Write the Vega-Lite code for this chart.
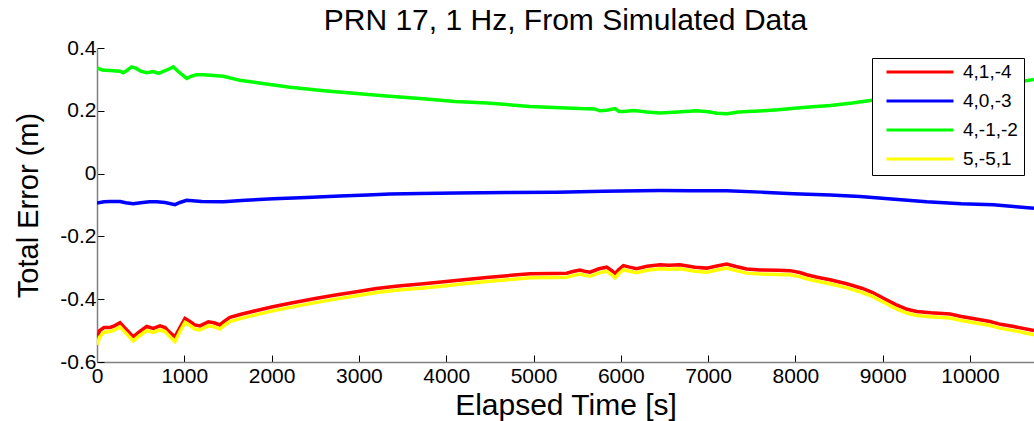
{
  "$schema": "https://vega.github.io/schema/vega-lite/v6.json",
  "width": 937,
  "height": 314,
  "autosize": {"type": "none"},
  "padding": {"left": 97, "top": 48, "right": 0, "bottom": 59},
  "background": "white",
  "title": {"text": "PRN 17, 1 Hz, From Simulated Data", "font": "Liberation Sans", "fontSize": 30, "fontWeight": "normal", "color": "black", "anchor": "middle", "offset": 1},
  "config": {
    "view": {"stroke": null},
    "font": "Liberation Sans"
  },
  "data": {"values": [
    {"s":"4,1,-4","t":0,"v":-0.525},{"s":"4,1,-4","t":30,"v":-0.5},{"s":"4,1,-4","t":80,"v":-0.49},{"s":"4,1,-4","t":150,"v":-0.49},{"s":"4,1,-4","t":200,"v":-0.485},{"s":"4,1,-4","t":263,"v":-0.475},{"s":"4,1,-4","t":330,"v":-0.495},{"s":"4,1,-4","t":416,"v":-0.52},{"s":"4,1,-4","t":480,"v":-0.505},{"s":"4,1,-4","t":569,"v":-0.487},{"s":"4,1,-4","t":645,"v":-0.493},{"s":"4,1,-4","t":722,"v":-0.485},{"s":"4,1,-4","t":780,"v":-0.49},{"s":"4,1,-4","t":830,"v":-0.505},{"s":"4,1,-4","t":893,"v":-0.52},{"s":"4,1,-4","t":950,"v":-0.49},{"s":"4,1,-4","t":1008,"v":-0.461},{"s":"4,1,-4","t":1060,"v":-0.47},{"s":"4,1,-4","t":1120,"v":-0.482},{"s":"4,1,-4","t":1180,"v":-0.485},{"s":"4,1,-4","t":1275,"v":-0.472},{"s":"4,1,-4","t":1340,"v":-0.475},{"s":"4,1,-4","t":1409,"v":-0.482},{"s":"4,1,-4","t":1460,"v":-0.47},{"s":"4,1,-4","t":1523,"v":-0.458},{"s":"4,1,-4","t":1650,"v":-0.448},{"s":"4,1,-4","t":1829,"v":-0.436},{"s":"4,1,-4","t":2000,"v":-0.425},{"s":"4,1,-4","t":2211,"v":-0.413},{"s":"4,1,-4","t":2500,"v":-0.398},{"s":"4,1,-4","t":2750,"v":-0.386},{"s":"4,1,-4","t":2974,"v":-0.376},{"s":"4,1,-4","t":3200,"v":-0.366},{"s":"4,1,-4","t":3450,"v":-0.358},{"s":"4,1,-4","t":3738,"v":-0.351},{"s":"4,1,-4","t":4000,"v":-0.344},{"s":"4,1,-4","t":4200,"v":-0.338},{"s":"4,1,-4","t":4464,"v":-0.331},{"s":"4,1,-4","t":4700,"v":-0.325},{"s":"4,1,-4","t":4960,"v":-0.319},{"s":"4,1,-4","t":5200,"v":-0.318},{"s":"4,1,-4","t":5380,"v":-0.317},{"s":"4,1,-4","t":5450,"v":-0.312},{"s":"4,1,-4","t":5532,"v":-0.307},{"s":"4,1,-4","t":5600,"v":-0.312},{"s":"4,1,-4","t":5647,"v":-0.314},{"s":"4,1,-4","t":5750,"v":-0.303},{"s":"4,1,-4","t":5838,"v":-0.298},{"s":"4,1,-4","t":5900,"v":-0.31},{"s":"4,1,-4","t":5934,"v":-0.319},{"s":"4,1,-4","t":5980,"v":-0.305},{"s":"4,1,-4","t":6030,"v":-0.293},{"s":"4,1,-4","t":6100,"v":-0.298},{"s":"4,1,-4","t":6182,"v":-0.303},{"s":"4,1,-4","t":6300,"v":-0.295},{"s":"4,1,-4","t":6449,"v":-0.29},{"s":"4,1,-4","t":6550,"v":-0.292},{"s":"4,1,-4","t":6678,"v":-0.29},{"s":"4,1,-4","t":6850,"v":-0.298},{"s":"4,1,-4","t":6984,"v":-0.301},{"s":"4,1,-4","t":7100,"v":-0.294},{"s":"4,1,-4","t":7213,"v":-0.288},{"s":"4,1,-4","t":7320,"v":-0.296},{"s":"4,1,-4","t":7442,"v":-0.304},{"s":"4,1,-4","t":7600,"v":-0.307},{"s":"4,1,-4","t":7800,"v":-0.308},{"s":"4,1,-4","t":7938,"v":-0.309},{"s":"4,1,-4","t":8050,"v":-0.315},{"s":"4,1,-4","t":8129,"v":-0.322},{"s":"4,1,-4","t":8250,"v":-0.33},{"s":"4,1,-4","t":8396,"v":-0.338},{"s":"4,1,-4","t":8588,"v":-0.351},{"s":"4,1,-4","t":8760,"v":-0.365},{"s":"4,1,-4","t":8880,"v":-0.378},{"s":"4,1,-4","t":9004,"v":-0.396},{"s":"4,1,-4","t":9150,"v":-0.417},{"s":"4,1,-4","t":9280,"v":-0.432},{"s":"4,1,-4","t":9389,"v":-0.439},{"s":"4,1,-4","t":9550,"v":-0.443},{"s":"4,1,-4","t":9771,"v":-0.447},{"s":"4,1,-4","t":9900,"v":-0.455},{"s":"4,1,-4","t":10050,"v":-0.462},{"s":"4,1,-4","t":10229,"v":-0.471},{"s":"4,1,-4","t":10350,"v":-0.48},{"s":"4,1,-4","t":10500,"v":-0.487},{"s":"4,1,-4","t":10733,"v":-0.5},

    {"s":"4,0,-3","t":0,"v":-0.094},{"s":"4,0,-3","t":80,"v":-0.09},{"s":"4,0,-3","t":150,"v":-0.089},{"s":"4,0,-3","t":263,"v":-0.089},{"s":"4,0,-3","t":330,"v":-0.093},{"s":"4,0,-3","t":416,"v":-0.096},{"s":"4,0,-3","t":500,"v":-0.093},{"s":"4,0,-3","t":600,"v":-0.09},{"s":"4,0,-3","t":684,"v":-0.09},{"s":"4,0,-3","t":780,"v":-0.092},{"s":"4,0,-3","t":893,"v":-0.099},{"s":"4,0,-3","t":950,"v":-0.092},{"s":"4,0,-3","t":1027,"v":-0.085},{"s":"4,0,-3","t":1200,"v":-0.089},{"s":"4,0,-3","t":1447,"v":-0.09},{"s":"4,0,-3","t":1700,"v":-0.085},{"s":"4,0,-3","t":2020,"v":-0.08},{"s":"4,0,-3","t":2400,"v":-0.076},{"s":"4,0,-3","t":2783,"v":-0.071},{"s":"4,0,-3","t":3100,"v":-0.068},{"s":"4,0,-3","t":3356,"v":-0.065},{"s":"4,0,-3","t":3700,"v":-0.063},{"s":"4,0,-3","t":4120,"v":-0.062},{"s":"4,0,-3","t":4700,"v":-0.06},{"s":"4,0,-3","t":5266,"v":-0.059},{"s":"4,0,-3","t":5800,"v":-0.056},{"s":"4,0,-3","t":6449,"v":-0.054},{"s":"4,0,-3","t":6800,"v":-0.055},{"s":"4,0,-3","t":7213,"v":-0.055},{"s":"4,0,-3","t":7600,"v":-0.059},{"s":"4,0,-3","t":7977,"v":-0.064},{"s":"4,0,-3","t":8400,"v":-0.068},{"s":"4,0,-3","t":8740,"v":-0.073},{"s":"4,0,-3","t":9100,"v":-0.081},{"s":"4,0,-3","t":9503,"v":-0.09},{"s":"4,0,-3","t":9900,"v":-0.096},{"s":"4,0,-3","t":10267,"v":-0.099},{"s":"4,0,-3","t":10500,"v":-0.105},{"s":"4,0,-3","t":10733,"v":-0.11},

    {"s":"4,-1,-2","t":0,"v":0.337},{"s":"4,-1,-2","t":60,"v":0.33},{"s":"4,-1,-2","t":150,"v":0.328},{"s":"4,-1,-2","t":263,"v":0.326},{"s":"4,-1,-2","t":300,"v":0.321},{"s":"4,-1,-2","t":350,"v":0.33},{"s":"4,-1,-2","t":397,"v":0.34},{"s":"4,-1,-2","t":450,"v":0.335},{"s":"4,-1,-2","t":500,"v":0.326},{"s":"4,-1,-2","t":569,"v":0.321},{"s":"4,-1,-2","t":642,"v":0.325},{"s":"4,-1,-2","t":700,"v":0.32},{"s":"4,-1,-2","t":722,"v":0.321},{"s":"4,-1,-2","t":800,"v":0.33},{"s":"4,-1,-2","t":875,"v":0.34},{"s":"4,-1,-2","t":930,"v":0.325},{"s":"4,-1,-2","t":1028,"v":0.303},{"s":"4,-1,-2","t":1080,"v":0.31},{"s":"4,-1,-2","t":1142,"v":0.315},{"s":"4,-1,-2","t":1218,"v":0.315},{"s":"4,-1,-2","t":1300,"v":0.313},{"s":"4,-1,-2","t":1447,"v":0.31},{"s":"4,-1,-2","t":1638,"v":0.297},{"s":"4,-1,-2","t":1900,"v":0.287},{"s":"4,-1,-2","t":2211,"v":0.275},{"s":"4,-1,-2","t":2600,"v":0.264},{"s":"4,-1,-2","t":2974,"v":0.255},{"s":"4,-1,-2","t":3350,"v":0.246},{"s":"4,-1,-2","t":3737,"v":0.238},{"s":"4,-1,-2","t":4100,"v":0.23},{"s":"4,-1,-2","t":4466,"v":0.225},{"s":"4,-1,-2","t":4960,"v":0.214},{"s":"4,-1,-2","t":5300,"v":0.21},{"s":"4,-1,-2","t":5533,"v":0.207},{"s":"4,-1,-2","t":5700,"v":0.206},{"s":"4,-1,-2","t":5760,"v":0.2},{"s":"4,-1,-2","t":5839,"v":0.202},{"s":"4,-1,-2","t":5934,"v":0.207},{"s":"4,-1,-2","t":5980,"v":0.198},{"s":"4,-1,-2","t":6030,"v":0.198},{"s":"4,-1,-2","t":6150,"v":0.201},{"s":"4,-1,-2","t":6300,"v":0.196},{"s":"4,-1,-2","t":6453,"v":0.193},{"s":"4,-1,-2","t":6650,"v":0.196},{"s":"4,-1,-2","t":6873,"v":0.2},{"s":"4,-1,-2","t":7000,"v":0.197},{"s":"4,-1,-2","t":7100,"v":0.192},{"s":"4,-1,-2","t":7217,"v":0.191},{"s":"4,-1,-2","t":7350,"v":0.196},{"s":"4,-1,-2","t":7633,"v":0.2},{"s":"4,-1,-2","t":7800,"v":0.203},{"s":"4,-1,-2","t":8018,"v":0.209},{"s":"4,-1,-2","t":8200,"v":0.213},{"s":"4,-1,-2","t":8400,"v":0.217},{"s":"4,-1,-2","t":8650,"v":0.225},{"s":"4,-1,-2","t":8858,"v":0.233},{"s":"4,-1,-2","t":9100,"v":0.242},{"s":"4,-1,-2","t":9400,"v":0.252},{"s":"4,-1,-2","t":9700,"v":0.262},{"s":"4,-1,-2","t":10000,"v":0.272},{"s":"4,-1,-2","t":10300,"v":0.283},{"s":"4,-1,-2","t":10550,"v":0.292},{"s":"4,-1,-2","t":10733,"v":0.3},

    {"s":"5,-5,1","t":0,"v":-0.545},{"s":"5,-5,1","t":30,"v":-0.52},{"s":"5,-5,1","t":80,"v":-0.505},{"s":"5,-5,1","t":150,"v":-0.503},{"s":"5,-5,1","t":200,"v":-0.498},{"s":"5,-5,1","t":263,"v":-0.488},{"s":"5,-5,1","t":330,"v":-0.508},{"s":"5,-5,1","t":416,"v":-0.533},{"s":"5,-5,1","t":480,"v":-0.518},{"s":"5,-5,1","t":569,"v":-0.5},{"s":"5,-5,1","t":645,"v":-0.506},{"s":"5,-5,1","t":722,"v":-0.498},{"s":"5,-5,1","t":780,"v":-0.503},{"s":"5,-5,1","t":830,"v":-0.518},{"s":"5,-5,1","t":893,"v":-0.535},{"s":"5,-5,1","t":950,"v":-0.503},{"s":"5,-5,1","t":1008,"v":-0.474},{"s":"5,-5,1","t":1060,"v":-0.483},{"s":"5,-5,1","t":1120,"v":-0.495},{"s":"5,-5,1","t":1180,"v":-0.498},{"s":"5,-5,1","t":1275,"v":-0.485},{"s":"5,-5,1","t":1340,"v":-0.488},{"s":"5,-5,1","t":1409,"v":-0.495},{"s":"5,-5,1","t":1460,"v":-0.483},{"s":"5,-5,1","t":1523,"v":-0.471},{"s":"5,-5,1","t":1650,"v":-0.461},{"s":"5,-5,1","t":1829,"v":-0.449},{"s":"5,-5,1","t":2000,"v":-0.438},{"s":"5,-5,1","t":2211,"v":-0.426},{"s":"5,-5,1","t":2500,"v":-0.411},{"s":"5,-5,1","t":2750,"v":-0.399},{"s":"5,-5,1","t":2974,"v":-0.389},{"s":"5,-5,1","t":3200,"v":-0.379},{"s":"5,-5,1","t":3450,"v":-0.371},{"s":"5,-5,1","t":3738,"v":-0.364},{"s":"5,-5,1","t":4000,"v":-0.357},{"s":"5,-5,1","t":4200,"v":-0.351},{"s":"5,-5,1","t":4464,"v":-0.344},{"s":"5,-5,1","t":4700,"v":-0.338},{"s":"5,-5,1","t":4960,"v":-0.332},{"s":"5,-5,1","t":5200,"v":-0.331},{"s":"5,-5,1","t":5380,"v":-0.33},{"s":"5,-5,1","t":5450,"v":-0.325},{"s":"5,-5,1","t":5532,"v":-0.32},{"s":"5,-5,1","t":5600,"v":-0.325},{"s":"5,-5,1","t":5647,"v":-0.327},{"s":"5,-5,1","t":5750,"v":-0.316},{"s":"5,-5,1","t":5838,"v":-0.311},{"s":"5,-5,1","t":5900,"v":-0.323},{"s":"5,-5,1","t":5934,"v":-0.332},{"s":"5,-5,1","t":5980,"v":-0.318},{"s":"5,-5,1","t":6030,"v":-0.306},{"s":"5,-5,1","t":6100,"v":-0.311},{"s":"5,-5,1","t":6182,"v":-0.316},{"s":"5,-5,1","t":6300,"v":-0.308},{"s":"5,-5,1","t":6449,"v":-0.303},{"s":"5,-5,1","t":6550,"v":-0.305},{"s":"5,-5,1","t":6678,"v":-0.303},{"s":"5,-5,1","t":6850,"v":-0.311},{"s":"5,-5,1","t":6984,"v":-0.314},{"s":"5,-5,1","t":7100,"v":-0.307},{"s":"5,-5,1","t":7213,"v":-0.301},{"s":"5,-5,1","t":7320,"v":-0.309},{"s":"5,-5,1","t":7442,"v":-0.317},{"s":"5,-5,1","t":7600,"v":-0.32},{"s":"5,-5,1","t":7800,"v":-0.321},{"s":"5,-5,1","t":7938,"v":-0.322},{"s":"5,-5,1","t":8050,"v":-0.328},{"s":"5,-5,1","t":8129,"v":-0.335},{"s":"5,-5,1","t":8250,"v":-0.343},{"s":"5,-5,1","t":8396,"v":-0.351},{"s":"5,-5,1","t":8588,"v":-0.364},{"s":"5,-5,1","t":8760,"v":-0.378},{"s":"5,-5,1","t":8880,"v":-0.391},{"s":"5,-5,1","t":9004,"v":-0.409},{"s":"5,-5,1","t":9150,"v":-0.43},{"s":"5,-5,1","t":9280,"v":-0.445},{"s":"5,-5,1","t":9389,"v":-0.452},{"s":"5,-5,1","t":9550,"v":-0.456},{"s":"5,-5,1","t":9771,"v":-0.46},{"s":"5,-5,1","t":9900,"v":-0.468},{"s":"5,-5,1","t":10050,"v":-0.475},{"s":"5,-5,1","t":10229,"v":-0.484},{"s":"5,-5,1","t":10350,"v":-0.493},{"s":"5,-5,1","t":10500,"v":-0.5},{"s":"5,-5,1","t":10733,"v":-0.513}
  ]},
  "mark": {"type": "line", "strokeWidth": 3.5, "clip": true},
  "encoding": {
    "x": {
      "field": "t", "type": "quantitative",
      "scale": {"domain": [0, 10733], "nice": false, "zero": false},
      "axis": {
        "title": "Elapsed Time [s]", "titleFont": "Liberation Sans", "titleFontSize": 30, "titleFontWeight": "normal", "titleColor": "black", "titlePadding": 4,
        "values": [0,1000,2000,3000,4000,5000,6000,7000,8000,9000,10000],
        "format": "d", "labelFont": "Liberation Sans", "labelFontSize": 21, "labelColor": "black", "labelPadding": 10, "labelFlush": false,
        "domainColor": "#808080", "domainWidth": 1.5, "tickColor": "black", "tickSize": -7, "tickWidth": 1, "grid": false
      }
    },
    "y": {
      "field": "v", "type": "quantitative",
      "scale": {"domain": [-0.6, 0.4], "nice": false, "zero": false},
      "axis": {
        "title": "Total Error (m)", "titleFont": "Liberation Sans", "titleFontSize": 29, "titleFontWeight": "normal", "titleColor": "black", "titlePadding": 16,
        "values": [-0.6,-0.4,-0.2,0,0.2,0.4],
        "labelExpr": "datum.value == 0 ? '0' : (datum.value < 0 ? '-' : '') + format(abs(datum.value), '.1f')",
        "labelFont": "Liberation Sans", "labelFontSize": 21, "labelColor": "black", "labelPadding": 8, "labelFlush": false,
        "domainColor": "#808080", "domainWidth": 1.5, "tickColor": "black", "tickSize": -7, "tickWidth": 1, "grid": false
      }
    },
    "color": {
      "field": "s", "type": "nominal",
      "scale": {"domain": ["4,1,-4", "4,0,-3", "4,-1,-2", "5,-5,1"], "range": ["#ff0000", "#0000ff", "#00ff00", "#ffff00"]},
      "legend": {
        "title": null, "orient": "none", "legendX": 775, "legendY": 10,
        "strokeColor": "black", "fillColor": "white", "padding": 6,
        "symbolType": "stroke", "symbolSize": 4489, "symbolStrokeWidth": 3, "symbolOffset": 7,
        "labelFont": "Liberation Sans", "labelFontSize": 19, "labelColor": "black", "labelOffset": 8,
        "clipHeight": 16, "rowPadding": 10
      }
    }
  }
}
